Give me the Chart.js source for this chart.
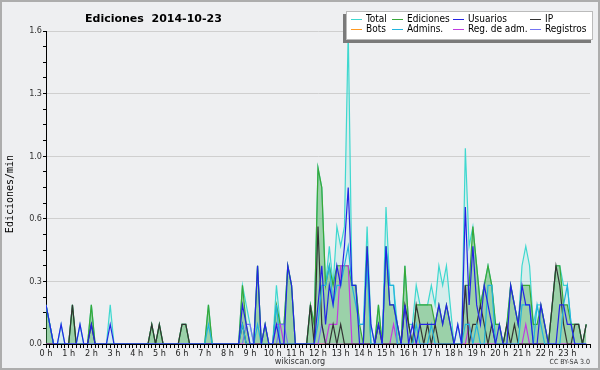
<!DOCTYPE html>
<html>
<head>
<meta charset="utf-8">
<script src="https://cdn.jsdelivr.net/npm/chart.js@4.4.1/dist/chart.umd.min.js"></script>
<style>
  html, body { margin: 0; padding: 0; background: #eeeff1; }
  canvas { display: block; }
</style>
</head>
<body>
<canvas id="myChart" width="600" height="370"></canvas>
<script>
// 10 minute buckets, edits per minute (144 per day)
const hours = ["0 h", "1 h", "2 h", "3 h", "4 h", "5 h", "6 h", "7 h", "8 h", "9 h", "10 h", "11 h",
  "12 h", "13 h", "14 h", "15 h", "16 h", "17 h", "18 h", "19 h", "20 h", "21 h", "22 h", "23 h"];
const yLabels = ["0.0", "0.3", "0.6", "1.0", "1.3", "1.6"];

const total = [
  0.2, 0.1, 0, 0, 0.1, 0, 0, 0.2, 0, 0.1, 0, 0,
  0.2, 0, 0, 0, 0, 0.2, 0, 0, 0, 0, 0, 0,
  0, 0, 0, 0, 0.1, 0, 0.1, 0, 0, 0, 0, 0,
  0.1, 0.1, 0, 0, 0, 0, 0, 0.2, 0, 0, 0, 0,
  0, 0, 0, 0, 0.3, 0.2, 0.1, 0, 0.4, 0, 0.1, 0,
  0, 0.3, 0.1, 0.1, 0.4, 0.3, 0, 0, 0, 0, 0.2, 0.1,
  0.9, 0.8, 0.3, 0.5, 0.3, 0.6, 0.5, 0.6, 1.6, 0.3, 0.3, 0.1,
  0.1, 0.6, 0.1, 0, 0.2, 0, 0.7, 0.3, 0.3, 0.1, 0, 0.4,
  0.1, 0.1, 0.3, 0.2, 0.2, 0.2, 0.3, 0.2, 0.4, 0.3, 0.4, 0.2,
  0, 0.1, 0, 1.0, 0.5, 0.6, 0.4, 0.2, 0.3, 0.4, 0.3, 0.1,
  0.1, 0, 0.1, 0.3, 0.2, 0.1, 0.4, 0.5, 0.4, 0.1, 0.2, 0.2,
  0.1, 0, 0.2, 0.4, 0.4, 0.3, 0.3, 0.1, 0.1, 0.1, 0, 0.1
];
const ediciones = [
  0.2, 0.1, 0, 0, 0, 0, 0, 0.2, 0, 0, 0, 0,
  0.2, 0, 0, 0, 0, 0, 0, 0, 0, 0, 0, 0,
  0, 0, 0, 0, 0.1, 0, 0.1, 0, 0, 0, 0, 0,
  0.1, 0.1, 0, 0, 0, 0, 0, 0.2, 0, 0, 0, 0,
  0, 0, 0, 0, 0.3, 0.1, 0, 0, 0.4, 0, 0.1, 0,
  0, 0.2, 0.1, 0.1, 0.4, 0.3, 0, 0, 0, 0, 0.2, 0.1,
  0.9, 0.8, 0.3, 0.4, 0.3, 0.4, 0.4, 0.4, 0.4, 0.3, 0.3, 0.1,
  0, 0.5, 0, 0, 0.2, 0, 0.5, 0.2, 0.2, 0.1, 0, 0.4,
  0.1, 0, 0.2, 0.2, 0.2, 0.2, 0.2, 0.1, 0.2, 0.1, 0.2, 0.1,
  0, 0, 0, 0.3, 0.3, 0.6, 0.4, 0.2, 0.3, 0.4, 0.3, 0.1,
  0.1, 0, 0.1, 0.3, 0.2, 0.1, 0.3, 0.3, 0.3, 0.1, 0.1, 0.2,
  0.1, 0, 0.2, 0.4, 0.4, 0.2, 0.2, 0.1, 0.1, 0.1, 0, 0.1
];
const usuarios = [
  0.2, 0.1, 0, 0, 0.1, 0, 0, 0, 0, 0.1, 0, 0,
  0.1, 0, 0, 0, 0, 0.1, 0, 0, 0, 0, 0, 0,
  0, 0, 0, 0, 0, 0, 0, 0, 0, 0, 0, 0,
  0, 0, 0, 0, 0, 0, 0, 0, 0, 0, 0, 0,
  0, 0, 0, 0, 0.2, 0.1, 0, 0, 0.4, 0, 0.1, 0,
  0, 0.1, 0, 0, 0.4, 0.3, 0, 0, 0, 0, 0, 0,
  0.2, 0.4, 0.1, 0.3, 0.2, 0.4, 0.3, 0.5, 0.8, 0.3, 0.3, 0,
  0, 0.5, 0.1, 0, 0.1, 0, 0.5, 0.2, 0.2, 0.1, 0, 0.2,
  0, 0.1, 0, 0.1, 0.1, 0.1, 0.1, 0.1, 0.2, 0.1, 0.2, 0.1,
  0, 0.1, 0, 0.7, 0.2, 0.5, 0.2, 0.1, 0.3, 0.2, 0.1, 0,
  0.1, 0, 0, 0.3, 0.2, 0.1, 0.3, 0.2, 0.2, 0, 0, 0.2,
  0.1, 0, 0, 0, 0.2, 0.2, 0.1, 0.1, 0, 0, 0, 0
];
const ip = [
  0, 0, 0, 0, 0, 0, 0, 0.2, 0, 0, 0, 0,
  0.1, 0, 0, 0, 0, 0, 0, 0, 0, 0, 0, 0,
  0, 0, 0, 0, 0.1, 0, 0.1, 0, 0, 0, 0, 0,
  0.1, 0.1, 0, 0, 0, 0, 0, 0, 0, 0, 0, 0,
  0, 0, 0, 0, 0.1, 0, 0, 0, 0, 0, 0, 0,
  0, 0, 0, 0, 0, 0, 0, 0, 0, 0, 0.2, 0,
  0.6, 0.1, 0, 0, 0.1, 0, 0.1, 0, 0, 0, 0, 0,
  0, 0, 0, 0, 0.1, 0, 0, 0, 0, 0, 0, 0.2,
  0.1, 0, 0.2, 0.1, 0, 0.1, 0, 0.1, 0, 0, 0, 0,
  0, 0, 0, 0.3, 0, 0.1, 0.1, 0.2, 0.1, 0, 0.1, 0,
  0, 0, 0.1, 0, 0.1, 0, 0, 0, 0, 0, 0, 0,
  0, 0, 0.2, 0.4, 0.3, 0.1, 0, 0, 0.1, 0.1, 0, 0.1
];
const bots = [
  0, 0, 0, 0, 0, 0, 0, 0, 0, 0, 0, 0,
  0, 0, 0, 0, 0, 0, 0, 0, 0, 0, 0, 0,
  0, 0, 0, 0, 0, 0, 0, 0, 0, 0, 0, 0,
  0, 0, 0, 0, 0, 0, 0, 0, 0, 0, 0, 0,
  0, 0, 0, 0, 0, 0, 0, 0, 0, 0, 0, 0,
  0, 0, 0, 0, 0, 0, 0, 0, 0, 0, 0, 0,
  0, 0, 0, 0, 0, 0, 0, 0, 0, 0, 0, 0,
  0, 0, 0, 0, 0, 0, 0, 0, 0, 0, 0, 0,
  0, 0, 0, 0, 0, 0, 0, 0, 0, 0, 0, 0,
  0, 0, 0, 0, 0, 0, 0, 0, 0, 0, 0, 0,
  0, 0, 0, 0, 0, 0, 0, 0, 0, 0, 0, 0,
  0, 0, 0, 0, 0, 0, 0, 0, 0, 0, 0, 0
];
const admins = [
  0.2, 0.1, 0, 0, 0, 0, 0, 0, 0, 0, 0, 0,
  0, 0, 0, 0, 0, 0, 0, 0, 0, 0, 0, 0,
  0, 0, 0, 0, 0, 0, 0, 0, 0, 0, 0, 0,
  0, 0, 0, 0, 0, 0, 0, 0.1, 0, 0, 0, 0,
  0, 0, 0, 0, 0.1, 0, 0, 0, 0.1, 0, 0, 0,
  0, 0.2, 0, 0, 0, 0, 0, 0, 0, 0, 0, 0,
  0.1, 0.3, 0.3, 0.4, 0.2, 0.3, 0.3, 0.4, 0.5, 0.3, 0.2, 0.1,
  0.1, 0.4, 0, 0, 0, 0, 0.5, 0.3, 0.3, 0, 0, 0,
  0, 0, 0.1, 0, 0, 0, 0.1, 0, 0, 0, 0, 0,
  0, 0, 0, 0.1, 0.1, 0, 0.1, 0, 0, 0.3, 0.3, 0,
  0, 0, 0, 0, 0, 0, 0.2, 0.2, 0.2, 0, 0.2, 0.1,
  0, 0, 0, 0, 0, 0.2, 0.3, 0.1, 0, 0, 0, 0
];
const regAdm = [
  0, 0, 0, 0, 0, 0, 0, 0, 0, 0, 0, 0,
  0, 0, 0, 0, 0, 0, 0, 0, 0, 0, 0, 0,
  0, 0, 0, 0, 0, 0, 0, 0, 0, 0, 0, 0,
  0, 0, 0, 0, 0, 0, 0, 0, 0, 0, 0, 0,
  0, 0, 0, 0, 0, 0, 0, 0, 0, 0, 0, 0,
  0, 0.1, 0.1, 0, 0, 0, 0, 0, 0, 0, 0, 0,
  0, 0, 0, 0.1, 0.1, 0.1, 0.4, 0.4, 0.4, 0, 0, 0,
  0, 0, 0, 0, 0, 0, 0, 0, 0.1, 0, 0, 0,
  0, 0, 0, 0, 0, 0, 0, 0, 0, 0, 0, 0,
  0, 0, 0, 0, 0.1, 0, 0, 0, 0, 0, 0, 0,
  0, 0, 0, 0, 0, 0, 0, 0.1, 0, 0, 0, 0,
  0, 0, 0, 0, 0, 0, 0, 0, 0, 0, 0, 0
];
const registros = [
  0, 0, 0, 0, 0, 0, 0, 0, 0, 0, 0, 0,
  0, 0, 0, 0, 0, 0, 0, 0, 0, 0, 0, 0,
  0, 0, 0, 0, 0, 0, 0, 0, 0, 0, 0, 0,
  0, 0, 0, 0, 0, 0, 0, 0, 0, 0, 0, 0,
  0, 0, 0, 0, 0, 0.1, 0.1, 0, 0, 0, 0, 0,
  0, 0, 0.1, 0.1, 0, 0, 0, 0, 0, 0, 0, 0,
  0, 0.1, 0, 0, 0, 0, 0, 0, 0, 0, 0, 0,
  0, 0, 0, 0, 0, 0, 0, 0, 0, 0, 0, 0,
  0, 0, 0, 0, 0, 0, 0, 0, 0, 0, 0, 0,
  0, 0, 0, 0.3, 0, 0, 0, 0, 0, 0, 0, 0,
  0, 0, 0, 0, 0, 0, 0, 0, 0, 0, 0, 0,
  0, 0, 0, 0, 0, 0, 0, 0, 0, 0, 0, 0
];

const SMALL = '"DejaVu Sans Condensed", "DejaVu Sans", sans-serif';

const toPoints = (arr) => arr.map((v, i) => ({ x: i, y: v }));

const serie = (label, values, color, order, fill, bg) => ({
  label,
  data: toPoints(values),
  borderColor: color,
  backgroundColor: bg || color,
  borderWidth: 1.2,
  pointRadius: 0,
  tension: 0,
  fill: fill ? "origin" : false,
  order,
});

const datasets = [
  serie("Total", total, "#3fd8cf", 9, true, "rgba(64,224,208,0.13)"),
  serie("Ediciones", ediciones, "#38a838", 8, true, "rgba(50,160,50,0.36)"),
  serie("Bots", bots, "#ff9a22", 7),
  serie("Registros", registros, "#7474f2", 6),
  serie("Reg. de adm.", regAdm, "#c03ce0", 5),
  serie("IP", ip, "#333333", 4),
  serie("Admins.", admins, "#22b4de", 3),
  serie("Usuarios", usuarios, "#2424e4", 2),
];

// legend order as on the picture: 2 rows x 4 columns
const legendRows = [
  ["Total", "Ediciones", "Usuarios", "IP"],
  ["Bots", "Admins.", "Reg. de adm.", "Registros"],
];

const decor = {
  id: "decor",
  beforeDraw(chart) {
    const c = chart.ctx;
    c.save();
    c.fillStyle = "#eeeff1";
    c.fillRect(0, 0, chart.width, chart.height);
    c.restore();
  },
  afterDraw(chart) {
    const c = chart.ctx;
    c.save();
    // outer frame
    c.strokeStyle = "#adadad";
    c.lineWidth = 2;
    c.strokeRect(1, 1, chart.width - 2, chart.height - 2);

    // title
    c.fillStyle = "#000";
    c.font = 'bold 11px "DejaVu Sans", sans-serif';
    c.textBaseline = "alphabetic";
    c.textAlign = "left";
    c.fillText("Ediciones  2014-10-23", 85, 22);

    // y axis title
    c.save();
    c.translate(10, 194);
    c.rotate(-Math.PI / 2);
    c.font = '10px "DejaVu Sans Mono", monospace';
    c.textAlign = "center";
    c.textBaseline = "middle";
    c.fillText("Ediciones/min", 0, 0);
    c.restore();

    // legend with shadow
    c.fillStyle = "#7a7a7a";
    c.fillRect(343, 14, 248, 29);
    c.fillStyle = "#fff";
    c.fillRect(346, 11, 247, 29);
    c.strokeStyle = "#bbb";
    c.lineWidth = 1;
    c.strokeRect(346.5, 11.5, 246, 28);
    const colX = [351, 392, 453, 530];
    const rowY = [19.5, 29.5];
    c.font = "10px " + SMALL;
    c.textBaseline = "middle";
    legendRows.forEach((row, r) => {
      row.forEach((name, k) => {
        const ds = chart.data.datasets.find((d) => d.label === name);
        c.strokeStyle = ds.borderColor;
        c.lineWidth = 1;
        c.beginPath();
        c.moveTo(colX[k], rowY[r]);
        c.lineTo(colX[k] + 11, rowY[r]);
        c.stroke();
        c.fillStyle = "#000";
        c.fillText(name, colX[k] + 15, rowY[r]);
      });
    });

    // footer
    c.fillStyle = "#333";
    c.textAlign = "center";
    c.textBaseline = "alphabetic";
    c.font = "9px " + SMALL;
    c.fillText("wikiscan.org", 300, 364);
    c.textAlign = "right";
    c.font = "7px " + SMALL;
    c.fillText("CC BY-SA 3.0", 590, 364);
    c.restore();
  },
};

const ctx = document.getElementById("myChart").getContext("2d");

const myChart = new Chart(ctx, {
  type: "line",
  data: { datasets },
  options: {
    responsive: false,
    animation: false,
    layout: { padding: { top: 31, right: 10, bottom: 0, left: 0 } },
    plugins: { legend: { display: false }, tooltip: { enabled: false } },
    scales: {
      x: {
        type: "linear",
        min: 0,
        max: 144,
        afterFit: (scale) => { scale.height = 26; },
        border: { display: true, color: "#000", width: 1 },
        grid: { drawOnChartArea: false, tickLength: 4, tickColor: "#000", tickWidth: 1 },
        ticks: {
          stepSize: 1,
          autoSkip: false,
          maxRotation: 0,
          padding: 0,
          color: "#222",
          font: { family: SMALL, size: 9 },
          callback: (v) => (v % 6 === 0 && v < 144 ? hours[v / 6] : ""),
        },
      },
      y: {
        min: 0,
        max: 1.6,
        afterFit: (scale) => { scale.width = 46; },
        border: { display: true, color: "#000", width: 1 },
        grid: {
          color: (c) => (c.index % 4 === 0 ? "#cfcfcf" : "rgba(0,0,0,0)"),
          tickColor: "#000",
          tickLength: 3,
        },
        ticks: {
          stepSize: 0.08,
          autoSkip: false,
          padding: 1,
          color: "#333",
          font: { family: SMALL, size: 9 },
          callback: (v, i) => (i % 4 === 0 ? yLabels[i / 4] : ""),
        },
      },
    },
  },
  plugins: [decor],
});
</script>
</body>
</html>
